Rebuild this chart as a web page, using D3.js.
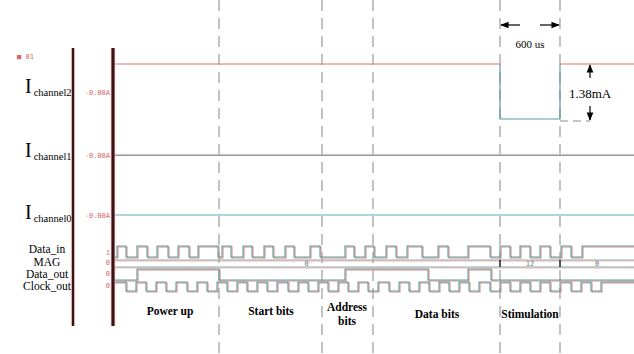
<!DOCTYPE html>
<html>
<head>
<meta charset="utf-8">
<script src="https://cdn.jsdelivr.net/npm/d3@7"></script>
<style>
  html, body { margin: 0; padding: 0; background: #fff; }
  svg { display: block; }
</style>
</head>
<body>
<div id="chart"></div>
<script>
// time in microseconds from the left trace edge
const T_END = 5210;

// phase boundaries (us) and labels
const phaseBounds = [1060, 2090, 2600, 3870, 4470];
const phaseLabels = [
  { t: 570, lines: ['Power up'] },
  { t: 1580, lines: ['Start bits'] },
  { t: 2340, lines: ['Address', 'bits'] },
  { t: 3240, lines: ['Data bits'] },
  { t: 4170, lines: ['Stimulation'] }
];

// analog currents (mA)
const ch2Times = [0, 3870, 3870, 4470, 4470, T_END];
const ch2Values = [0, 0, -1.38, -1.38, 0, 0];
const ch1Times = [0, T_END];
const ch1Values = [0, 0];
const ch0Times = [0, T_END];
const ch0Values = [0, 0];

// digital signals: intervals (us) where the level is high / low
const dataInHighs = [
  [40, 130], [240, 340], [440, 550], [650, 760], [850, 1050],
  [1090, 1180], [1300, 1390], [1510, 1600], [1720, 1810], [1970, 2070],
  [2320, 2410], [2520, 2610], [2730, 2830], [2940, 3090], [3250, 3350],
  [3550, 3770], [3870, 3970], [4070, 4170], [4270, 4370], [4480, 4580],
  [4690, 5210]
];
const dataOutHighs = [[240, 1060], [2320, 3150], [3550, 3780]];
const clockLows = [
  [130, 230], [330, 430], [530, 630], [740, 840], [940, 1040],
  [1140, 1240], [1340, 1440], [1540, 1640], [1750, 1850], [1950, 2050],
  [2150, 2250], [2350, 2450], [2550, 2650], [2760, 2860], [2960, 3060],
  [3160, 3260], [3360, 3460], [3560, 3660], [3770, 3870], [3970, 4070],
  [4170, 4270], [4370, 4470], [4580, 4680], [4780, 4880]
];
const magSegments = [[0, 3870, '0'], [3870, 4470, '12'], [4470, T_END, '0']];

const WIDTH = 634;
const HEIGHT = 354;
const RED = '#e38686';
const TEAL = '#5c9ea0';
const GRID = '#b4b4b4';

const svg = d3.select('#chart').append('svg')
  .attr('width', WIDTH)
  .attr('height', HEIGHT);

const x = d3.scaleLinear().domain([0, T_END]).range([113, 634]);

// dashed phase boundaries
svg.selectAll('line.phase')
  .data(phaseBounds)
  .enter().append('line')
  .attr('x1', d => x(d)).attr('x2', d => x(d))
  .attr('y1', 0).attr('y2', HEIGHT)
  .attr('stroke', GRID)
  .attr('stroke-width', 1.6)
  .attr('stroke-dasharray', '11,7');

// analog traces
const yCh2 = d3.scaleLinear().domain([-1.38, 0]).range([119, 64]);
const yCh1 = d3.scaleLinear().domain([-1, 0]).range([210, 155]);
const yCh0 = d3.scaleLinear().domain([-1, 0]).range([270, 215]);

function analog(times, values, y, color, dy, width) {
  const line = d3.line().x(d => x(d[0])).y(d => y(d[1]) + dy);
  svg.append('path')
    .datum(d3.zip(times, values))
    .attr('fill', 'none')
    .attr('stroke', color)
    .attr('stroke-width', width || 1.2)
    .attr('d', line);
}

analog(ch2Times.slice(1, 5), ch2Values.slice(1, 5), yCh2, TEAL, 0);
analog(ch2Times.slice(0, 2), ch2Values.slice(0, 2), yCh2, '#e07070', 0);
analog(ch2Times.slice(4), ch2Values.slice(4), yCh2, '#e07070', 0);
analog(ch1Times, ch1Values, yCh1, '#eababa', -0.8, 0.8);
analog(ch1Times, ch1Values, yCh1, '#7f9ea0', 0.3, 1.3);
analog(ch0Times, ch0Values, yCh0, '#5eaeb8', 0);

// step helpers
function stepsFromHighs(highs) {
  const pts = [[0, 0]];
  highs.forEach(h => { pts.push([h[0], 1]); pts.push([Math.min(h[1], T_END), 0]); });
  if (highs[highs.length - 1][1] >= T_END) pts[pts.length - 1] = [T_END, 1];
  else pts.push([T_END, 0]);
  return pts;
}
function stepsFromLows(lows) {
  const pts = [[0, 1]];
  lows.forEach(l => { pts.push([l[0], 0]); pts.push([l[1], 1]); });
  pts.push([T_END, 1]);
  return pts;
}

function digital(pts, lowY, highY) {
  const y = d3.scaleLinear().domain([0, 1]).range([lowY, highY]);
  const line = d3.line().curve(d3.curveStepAfter).x(d => x(d[0])).y(d => y(d[1]));
  svg.append('path').datum(pts)
    .attr('fill', 'none').attr('stroke', RED).attr('stroke-width', 1.1)
    .attr('transform', 'translate(1,1)')
    .attr('d', line);
  svg.append('path').datum(pts)
    .attr('fill', 'none').attr('stroke', TEAL).attr('stroke-width', 1.1)
    .attr('d', line);
}

digital(stepsFromHighs(dataInHighs), 257, 246);
digital(stepsFromHighs(dataOutHighs), 280, 269);
digital(stepsFromLows(clockLows), 291, 282);

// MAG bus
[260, 267].forEach(yy => {
  svg.append('line')
    .attr('x1', x(0)).attr('x2', x(T_END))
    .attr('y1', yy + 1).attr('y2', yy + 1)
    .attr('stroke', RED).attr('stroke-opacity', 0.6)
    .attr('stroke-width', 1);
  svg.append('line')
    .attr('x1', x(0)).attr('x2', x(T_END))
    .attr('y1', yy).attr('y2', yy)
    .attr('stroke', '#8fa9aa')
    .attr('stroke-width', 1.1);
});
svg.selectAll('line.magmark')
  .data(magSegments.slice(1))
  .enter().append('line')
  .attr('x1', d => x(d[0])).attr('x2', d => x(d[0]))
  .attr('y1', 260).attr('y2', 267)
  .attr('stroke', '#222').attr('stroke-width', 1.5);
svg.selectAll('text.mag')
  .data(magSegments)
  .enter().append('text')
  .attr('x', d => x((d[0] + d[1]) / 2))
  .attr('y', 266)
  .attr('text-anchor', 'middle')
  .attr('font-family', 'DejaVu Sans Mono, monospace')
  .attr('font-size', 7)
  .attr('fill', '#777')
  .text(d => d[2]);

// dark frame lines
[[73, 2.2], [113, 3]].forEach(v => {
  svg.append('line')
    .attr('x1', v[0]).attr('x2', v[0]).attr('y1', 48).attr('y2', 326)
    .attr('stroke', '#f0b8b8').attr('stroke-width', v[1] + 1.5);
  svg.append('line')
    .attr('x1', v[0]).attr('x2', v[0]).attr('y1', 48).attr('y2', 326)
    .attr('stroke', '#3a1414').attr('stroke-width', v[1]);
});

// small instrument labels
const small = (t, xx, yy, anchor) => svg.append('text')
  .attr('x', xx).attr('y', yy)
  .attr('text-anchor', anchor || 'end')
  .attr('font-family', 'DejaVu Sans Mono, monospace')
  .attr('font-size', 7)
  .attr('fill', '#d56a6a')
  .text(t);
small('■ 01', 17, 59, 'start');
small('-0.00A', 110, 95);
small('-0.00A', 110, 158);
small('-0.00A', 110, 218);
small('1', 110, 255);
small('0', 110, 265);
small('0', 110, 276);
small('0', 110, 288);

// channel labels
const serif = 'Liberation Serif, Times New Roman, serif';
[['channel2', 96], ['channel1', 160], ['channel0', 222]].forEach(d => {
  const t = svg.append('text')
    .attr('x', 25).attr('y', d[1])
    .attr('font-family', serif).attr('fill', '#000');
  t.append('tspan').attr('font-size', 20).attr('dy', -3).text('I');
  t.append('tspan').attr('font-size', 10.5).attr('dx', 2).attr('dy', 3).text(d[0]);
});
[['Data_in', 253], ['MAG', 265.5], ['Data_out', 277.5], ['Clock_out', 290]].forEach(d => {
  svg.append('text')
    .attr('x', 47).attr('y', d[1])
    .attr('text-anchor', 'middle')
    .attr('font-family', serif).attr('font-size', 11.5)
    .text(d[0]);
});

// phase labels
phaseLabels.forEach(p => {
  const single = p.lines.length === 1;
  p.lines.forEach((s, i) => {
    svg.append('text')
      .attr('x', x(p.t))
      .attr('y', (single ? (p.t < 2000 ? 315 : 318) : 311) + i * 14)
      .attr('text-anchor', 'middle')
      .attr('font-family', serif).attr('font-weight', 'bold').attr('font-size', 11.5)
      .text(s);
  });
});

// annotations
const defs = svg.append('defs');
defs.append('marker')
  .attr('id', 'arrow').attr('viewBox', '0 0 10 10')
  .attr('refX', 9).attr('refY', 5)
  .attr('markerWidth', 7).attr('markerHeight', 7)
  .attr('orient', 'auto-start-reverse')
  .append('path').attr('d', 'M0,1 L10,5 L0,9 Z').attr('fill', '#000');

const arrow = (x1, y1, x2, y2) => svg.append('line')
  .attr('x1', x1).attr('y1', y1).attr('x2', x2).attr('y2', y2)
  .attr('stroke', '#000').attr('stroke-width', 1.2)
  .attr('marker-end', 'url(#arrow)');

arrow(x(4070), 25, x(3870) + 1, 25);
arrow(x(4270), 25, x(4470) - 1, 25);
svg.append('text')
  .attr('x', x(4170)).attr('y', 48)
  .attr('text-anchor', 'middle')
  .attr('font-family', serif).attr('font-size', 11)
  .text('600 us');

const xArrow = x(4770);
arrow(xArrow, 78, xArrow, yCh2(0) + 1);
arrow(xArrow, 106, xArrow, yCh2(-1.38) + 1);
svg.append('line')
  .attr('x1', x(4470)).attr('x2', xArrow)
  .attr('y1', yCh2(-1.38) + 2).attr('y2', yCh2(-1.38) + 2)
  .attr('stroke', GRID).attr('stroke-width', 1.5)
  .attr('stroke-dasharray', '8,5');
svg.append('rect')
  .attr('x', xArrow - 26).attr('y', 84).attr('width', 52).attr('height', 18)
  .attr('fill', '#fff');
svg.append('text')
  .attr('x', xArrow).attr('y', 98)
  .attr('text-anchor', 'middle')
  .attr('font-family', serif).attr('font-size', 13)
  .text('1.38mA');
</script>
</body>
</html>
